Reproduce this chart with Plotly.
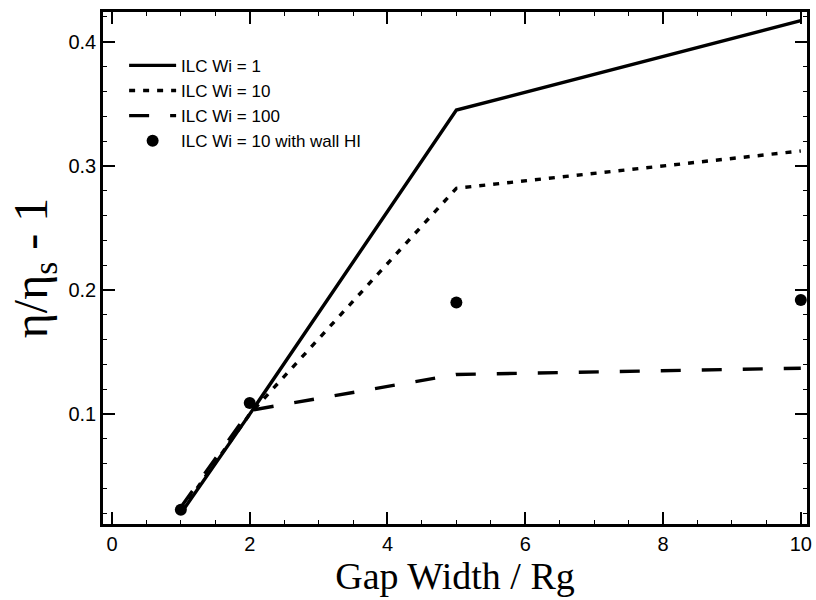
import plotly.graph_objects as go

gap = [1, 2, 5, 10]
wi1 = [0.020, 0.100, 0.345, 0.417]
wi10 = [0.022, 0.100, 0.282, 0.312]
wi100 = [0.025, 0.103, 0.132, 0.137]
gap_hi = [1, 2, 5, 10]
wi10_hi = [0.023, 0.109, 0.190, 0.192]

names = ["ILC Wi = 1", "ILC Wi = 10", "ILC Wi = 100", "ILC Wi = 10 with wall HI"]

fig = go.Figure()
fig.add_trace(go.Scatter(x=gap, y=wi1, mode="lines", name=names[0],
                         line=dict(color="black", width=3.4)))
fig.add_trace(go.Scatter(x=gap, y=wi10, mode="lines", name=names[1],
                         line=dict(color="black", width=3.4, dash="6px,8px")))
fig.add_trace(go.Scatter(x=gap, y=wi100, mode="lines", name=names[2],
                         line=dict(color="black", width=3.4, dash="20px,21px")))
fig.add_trace(go.Scatter(x=gap_hi, y=wi10_hi, mode="markers", name=names[3],
                         marker=dict(color="black", size=12)))

axis_common = dict(
    showline=True, linecolor="black", linewidth=2.5, mirror="ticks",
    ticks="inside", ticklen=12, tickwidth=2, tickcolor="black",
    showgrid=False, zeroline=False,
    tickfont=dict(family="Liberation Sans, Arial", size=20, color="black"),
)

fig.update_layout(
    width=816, height=600,
    margin=dict(l=103, r=4, t=12, b=76),
    paper_bgcolor="white", plot_bgcolor="white",
    showlegend=True,
    legend=dict(x=0.03, y=0.93, xanchor="left", yanchor="top",
                bgcolor="rgba(0,0,0,0)", itemwidth=47,
                font=dict(family="Liberation Sans, Arial", size=17, color="black"),
                tracegroupgap=0),
    xaxis=dict(range=[-0.13, 10.09], tickvals=[0, 2, 4, 6, 8, 10],
               minor=dict(ticks="inside", ticklen=4, tickwidth=1, dtick=0.5, tickcolor="black"),
               title=dict(text="Gap Width / Rg", standoff=2,
                          font=dict(family="Liberation Serif, Times New Roman", size=38, color="black")),
               **axis_common),
    yaxis=dict(range=[0.0115, 0.424], tickvals=[0.1, 0.2, 0.3, 0.4],
               ticktext=["0.1", "0.2", "0.3", "0.4"],
               minor=dict(ticks="inside", ticklen=4, tickwidth=1, dtick=0.02, tickcolor="black"),
               title=dict(text="η/η<sub>s</sub> - 1", standoff=6,
                          font=dict(family="Liberation Serif, Times New Roman", size=48, color="black")),
               **axis_common),
)

fig.write_html("out.html")
